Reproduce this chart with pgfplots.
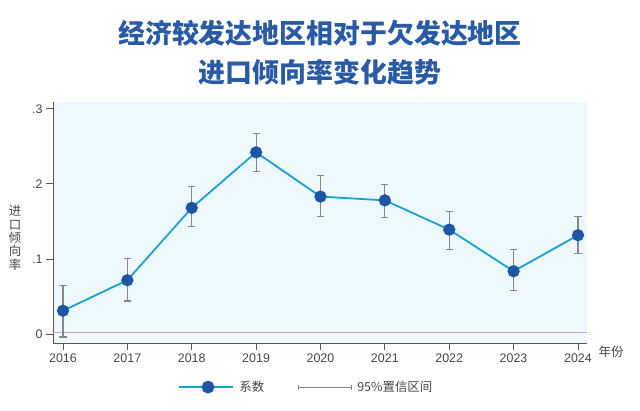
\documentclass[border=0pt]{standalone}
\usepackage{fontspec}
\usepackage{pgfplots}
\pgfplotsset{compat=1.18}
\setmainfont{Liberation Sans}
\newfontfamily\cjk{Noto Sans CJK SC}

\definecolor{titleblue}{RGB}{40,90,165}
\definecolor{linecyan}{RGB}{25,160,212}
\definecolor{dotblue}{RGB}{30,85,165}
\definecolor{cigray}{RGB}{135,135,135}
\definecolor{bgblue}{RGB}{238,249,253}
\definecolor{zeroline}{RGB}{215,160,178}
\definecolor{axgray}{RGB}{85,85,85}
\definecolor{txtgray}{RGB}{70,70,70}

% year, coefficient, upper / lower half-width of the 95% interval
\pgfplotstableread{
year coef eplus eminus
2016 0.0310 0.0330 0.0350
2017 0.0716 0.0284 0.0276
2018 0.1680 0.0290 0.0250
2019 0.2420 0.0250 0.0260
2020 0.1830 0.0285 0.0260
2021 0.1780 0.0210 0.0224
2022 0.1390 0.0246 0.0266
2023 0.0836 0.0284 0.0258
2024 0.1316 0.0248 0.0246
}\coefdata

\begin{document}
\begin{tikzpicture}
\useasboundingbox (0bp,0bp) rectangle (640bp,411bp);

\node[font=\cjk\bfseries\fontsize{27}{27}\selectfont, text=titleblue] at (320bp,378bp) {经济较发达地区相对于欠发达地区};
\node[font=\cjk\bfseries\fontsize{27}{27}\selectfont, text=titleblue] at (320bp,339bp) {进口倾向率变化趋势};

\begin{axis}[
  at={(53bp,68bp)}, anchor=south west,
  scale only axis, width=534bp, height=241bp,
  xmin=2015.845, xmax=2024.14,
  ymin=-0.012, ymax=0.309,
  axis lines*=left,
  axis line style={axgray, line width=0.8bp},
  axis background/.style={fill=bgblue},
  xtick={2016,...,2024},
  xticklabels={2016,2017,2018,2019,2020,2021,2022,2023,2024},
  ytick={0,0.1,0.2,0.3},
  yticklabels={0,.1,.2,.3},
  tick align=outside,
  major tick length=7bp,
  tick style={axgray, line width=0.8bp},
  ticklabel style={font=\fontsize{12.5}{12.5}\selectfont, text=txtgray},
  /pgf/number format/assume math mode=true,
  clip=false,
  legend style={at={(0.234,-0.183)}, anchor=west, draw=none, fill=none,
    inner sep=0pt, legend columns=2,
    font=\cjk\fontsize{12.5}{12.5}\selectfont, text=txtgray,
    nodes={inner sep=5.5bp},
    /tikz/every even column/.append style={column sep=28bp}},
]
\addplot[zeroline, line width=0.9bp, forget plot] coordinates {(2015.845,0.002) (2024.14,0.002)};

\addplot[linecyan, line width=1.8bp, mark=*, mark size=5.2bp,
  mark options={fill=dotblue, draw=dotblue},
  legend image code/.code={
    \draw[linecyan, line width=1.8bp] (0bp,0bp) -- (54bp,0bp);
    \fill[dotblue] (29bp,0bp) circle (5.5bp);
  }] table[x=year, y=coef] {\coefdata};
\addlegendentry{系数}

\addplot[draw=none, mark=none,
  legend image code/.code={
    \draw[cigray, line width=0.9bp] (0bp,0bp) -- (53bp,0bp);
    \draw[cigray, line width=0.9bp] (0bp,-2.5bp) -- (0bp,2.5bp);
    \draw[cigray, line width=0.9bp] (53bp,-2.5bp) -- (53bp,2.5bp);
  },
  error bars/.cd, y dir=both, y explicit,
  error bar style={cigray, line width=1.1bp},
  error mark options={cigray, mark size=3.6bp, line width=1.1bp, rotate=90}]
  table[x=year, y=coef, y error plus=eplus, y error minus=eminus] {\coefdata};
\addlegendentry{95\%置信区间}
\end{axis}

\node[font=\cjk\fontsize{12.5}{13.4}\selectfont, text=txtgray, align=center] at (15bp,173bp) {进\\口\\倾\\向\\率};
\node[font=\cjk\fontsize{12.5}{12.5}\selectfont, text=txtgray] at (611bp,59bp) {年份};
\end{tikzpicture}
\end{document}
